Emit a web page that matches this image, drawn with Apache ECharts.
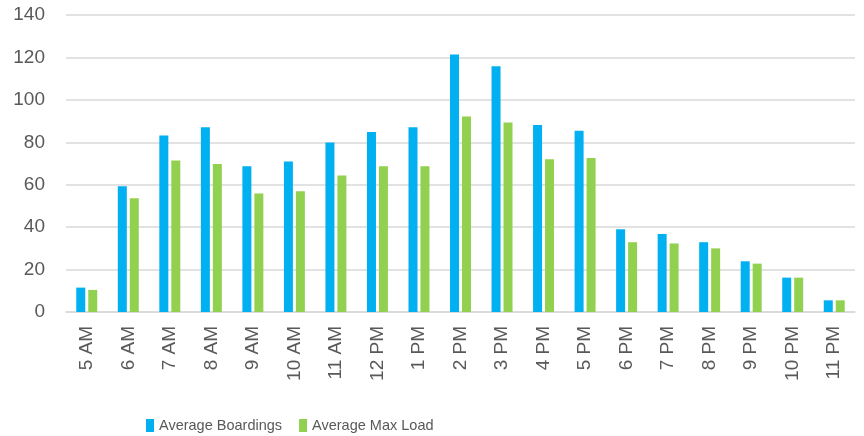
<!DOCTYPE html>
<html>
<head>
<meta charset="utf-8">
<script src="https://cdn.jsdelivr.net/npm/echarts@6/dist/echarts.min.js"></script>
<style>
  html, body { margin: 0; padding: 0; background: #fff; }
  #chart { width: 864px; height: 436px; }
</style>
</head>
<body>
<div id="chart"></div>
<script>
// categories and values
const hours = ['5 AM', '6 AM', '7 AM', '8 AM', '9 AM', '10 AM', '11 AM', '12 PM', '1 PM', '2 PM',
  '3 PM', '4 PM', '5 PM', '6 PM', '7 PM', '8 PM', '9 PM', '10 PM', '11 PM']
const boardings = [11.5, 59.3, 83.2, 87.1, 68.7, 70.9, 79.9, 84.9, 87.1, 121.4,
  115.8, 88.2, 85.4, 39.0, 36.8, 32.9, 23.9, 16.2, 5.5]
const maxLoad = [10.4, 53.6, 71.4, 69.8, 55.8, 56.9, 64.3, 68.7, 68.7, 92.2,
  89.3, 72.0, 72.6, 32.9, 32.3, 30.0, 22.8, 16.2, 5.5]

const textColor = '#595959'
const myChart = echarts.init(document.getElementById('chart'))

const option = {
  animation: false,
  textStyle: { fontFamily: 'Liberation Sans, Arial, sans-serif' },
  grid: {
    left: 66,
    right: 9,
    top: 15,
    bottom: 124
  },
  legend: {
    top: 413,
    left: 141,
    itemWidth: 8,
    itemHeight: 13,
    itemGap: 17,
    icon: 'rect',
    textStyle: {
      color: textColor,
      fontSize: 14.5
    },
    data: ['Average Boardings', 'Average Max Load']
  },
  xAxis: {
    type: 'category',
    data: hours,
    axisLine: { lineStyle: { color: '#D9D9D9', width: 1.5 } },
    axisTick: { show: false },
    axisLabel: {
      rotate: 90,
      margin: 14,
      color: textColor,
      fontSize: 19
    }
  },
  yAxis: {
    type: 'value',
    min: 0,
    max: 140,
    interval: 20,
    axisLine: { show: false },
    axisTick: { show: false },
    axisLabel: { color: textColor, fontSize: 19, margin: 21 },
    splitLine: { lineStyle: { color: '#D9D9D9', width: 1.5 } }
  },
  series: [
    {
      name: 'Average Boardings',
      type: 'bar',
      data: boardings,
      barWidth: 9,
      barGap: '33%',
      itemStyle: { color: '#00B0F0' }
    },
    {
      name: 'Average Max Load',
      type: 'bar',
      data: maxLoad,
      barWidth: 9,
      itemStyle: { color: '#92D050' }
    }
  ]
}

myChart.setOption(option)
</script>
</body>
</html>
